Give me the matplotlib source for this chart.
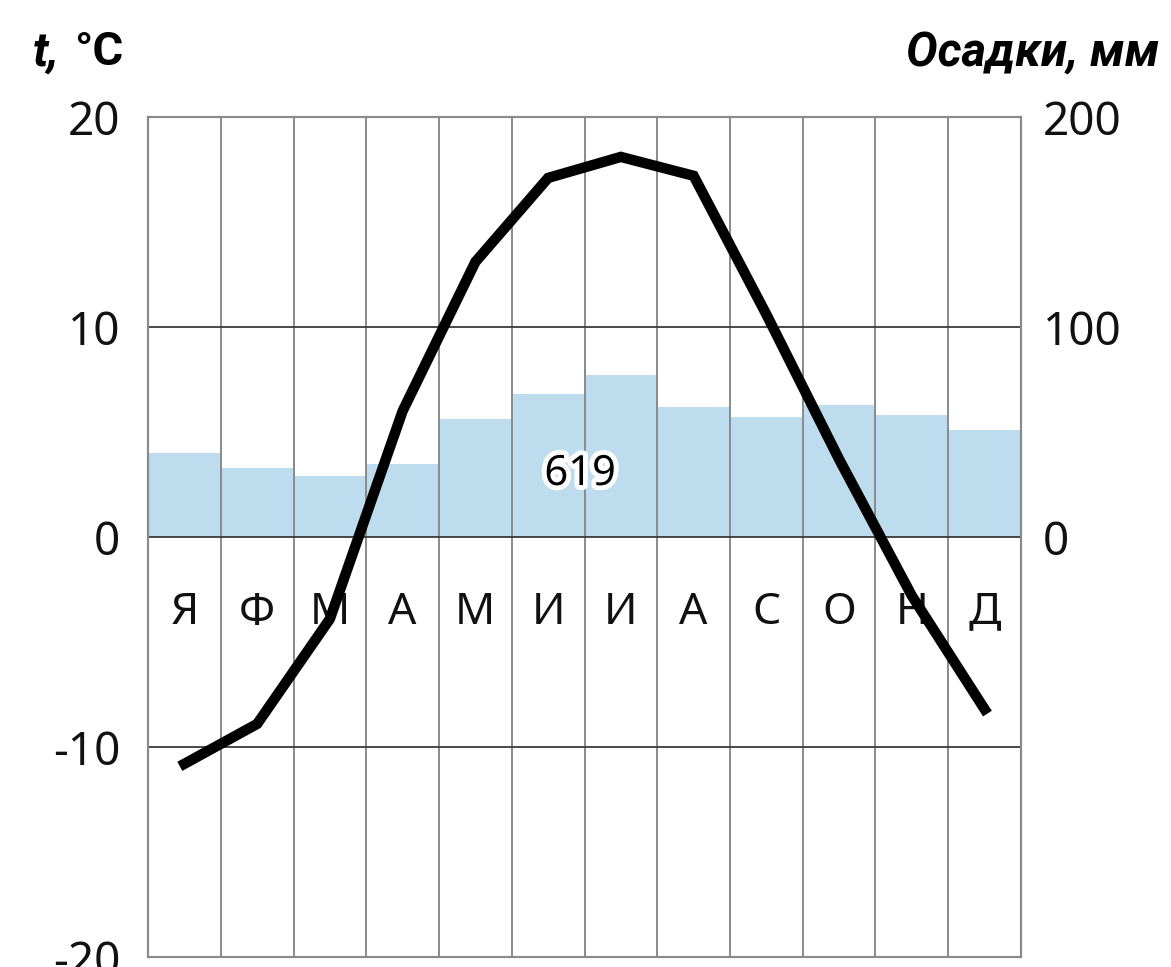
import numpy as np
import matplotlib
matplotlib.use('Agg')
import matplotlib.pyplot as plt
import matplotlib.patheffects as pe

# monthly data
months = ['Я', 'Ф', 'М', 'А', 'М', 'И', 'И', 'А', 'С', 'О', 'Н', 'Д']
temperature = [-10.8, -8.9, -3.9, 6.0, 13.1, 17.1, 18.1, 17.2, 10.6, 3.7, -2.8, -8.2]
precipitation = [40, 33, 29, 35, 56, 68, 77, 62, 57, 63, 58, 51]
total_precip = '619'

temp_ticks = [-20, -10, 0, 10, 20]
precip_ticks = [0, 100, 200]

plt.rcParams['font.family'] = ['Noto Sans', 'DejaVu Sans']

fig = plt.figure(figsize=(11.71, 9.67), dpi=100)
ax = fig.add_axes([0.1264, 0.0103, 0.7455, 0.8687])
ax2 = ax.twinx()

x = np.arange(len(months))

# bars on the precipitation axis
ax2.bar(x, precipitation, width=1.0, color='#bddcee', zorder=1)
ax2.set_ylim(-200, 200)
ax2.set_yticks(precip_ticks)
ax2.set_yticklabels([str(v) for v in precip_ticks])

# temperature axis drawn over the bars
ax.set_zorder(ax2.get_zorder() + 1)
ax.patch.set_visible(False)
ax.set_ylim(-20, 20)
ax.set_xlim(-0.5, len(months) - 0.5)
ax.set_yticks(temp_ticks)
ax.set_yticklabels([str(v) for v in temp_ticks])

# grid
for xv in np.arange(0.5, len(months) - 0.5, 1):
    ax.axvline(xv, color='#8a8a8a', lw=1.4, zorder=1)
for yv in [-10, 0, 10]:
    ax.axhline(yv, color='#3a3a3a', lw=1.3, zorder=1)

ax.plot(x, temperature, color='black', lw=7.5, solid_joinstyle='miter', zorder=5)

# month letters
for i, m in enumerate(months):
    ax.text(i, -3.6, m, ha='center', va='center', fontsize=32, color='#111111', zorder=3)

ax.text(5.44, 3.0, total_precip, ha='center', va='center', fontsize=30, color='black',
        fontweight='medium', zorder=6,
        path_effects=[pe.withStroke(linewidth=7, foreground='white')])

for a in (ax, ax2):
    a.set_xticks([])
    for s in a.spines.values():
        s.set_color('#8a8a8a')
        s.set_linewidth(1.5)
ax.tick_params(axis='y', length=0, labelsize=33, pad=20, labelcolor='#111111')
ax2.tick_params(axis='y', length=0, labelsize=33, pad=16, labelcolor='#111111')

title_font = ['Roboto', 'DejaVu Sans']
fig.text(0.028, 0.946, 't,', fontsize=34, fontweight='bold', fontstyle='italic', va='center',
         family=title_font)
fig.text(0.063, 0.946, '°C', fontsize=34, fontweight='bold', va='center', family=title_font)
fig.text(0.99, 0.946, 'Осадки, мм', fontsize=34, fontweight='bold', fontstyle='italic',
         ha='right', va='center', family=title_font)

fig.savefig('out.png', dpi=100)
